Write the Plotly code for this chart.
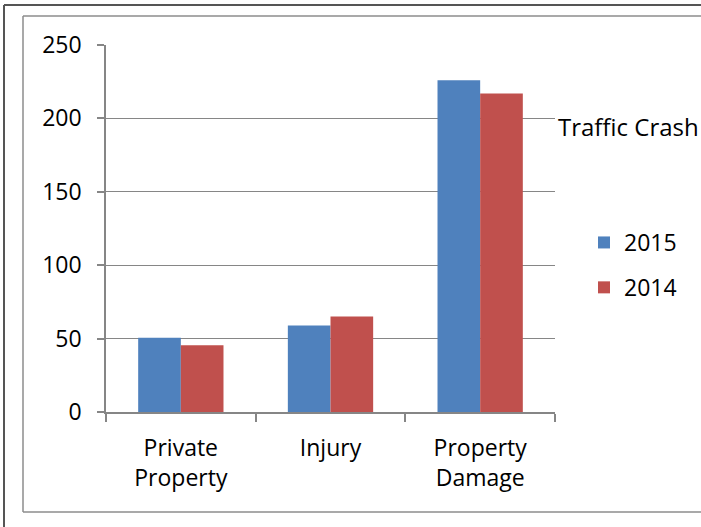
import plotly.graph_objects as go

categories = ["Private<br>Property", "Injury", "Property<br>Damage"]
series_names = ["2015", "2014"]
values_2015 = [50.5, 59, 226]
values_2014 = [45.5, 65, 217]
colors = ["#4F81BD", "#C0504D"]
y_ticks = [0, 50, 100, 150, 200, 250]
title_text = "Traffic Crash"

W, H = 701, 527
L, R, T, B = 106, 555, 45, 412
pw, ph = R - L, B - T

def px(x):
    return (x - L) / pw

def py(y):
    return (B - y) / ph

FONT = "Open Sans"
AX = "#868686"

fig = go.Figure()
for name, vals, c, g in zip(series_names, [values_2015, values_2014], colors, ["a", "b"]):
    fig.add_trace(go.Bar(x=categories, y=vals, name=name, marker_color=c,
                         marker_line_width=0, legendgroup=g))

def seg(x0, y0, x1, y1, color, width):
    return dict(type="line", xref="paper", yref="paper", x0=px(x0), y0=py(y0),
                x1=px(x1), y1=py(y1), line=dict(color=color, width=width), layer="below")

fig.update_layout(
    width=W, height=H,
    margin=dict(l=L, r=W - R, t=T, b=H - B, pad=0),
    paper_bgcolor="white", plot_bgcolor="white",
    font=dict(family=FONT, size=23, color="black"),
    barmode="group", bargap=0.43, bargroupgap=0,
    showlegend=True,
    legend=dict(x=px(584), y=py(221), xanchor="left", yanchor="top",
                xref="paper", yref="paper",
                font=dict(size=23), tracegroupgap=12, traceorder="grouped",
                bgcolor="rgba(0,0,0,0)", borderwidth=0),
    xaxis=dict(type="category", tickson="boundaries", ticks="outside", ticklen=8,
               tickcolor=AX, tickwidth=1.5, showline=True, linecolor=AX, linewidth=1.5,
               showgrid=False, ticklabelstandoff=15),
    yaxis=dict(range=[0, 250], tickvals=y_ticks, ticks="outside", ticklen=7,
               tickcolor=AX, tickwidth=1.5, showline=True, linecolor=AX, linewidth=1.5,
               showgrid=True, gridcolor=AX, gridwidth=1.2, zeroline=False,
               ticklabelstandoff=11),
    shapes=[
        seg(4, 5, 701, 5, "#555555", 2),
        seg(4, 5, 4, 527, "#555555", 2),
        seg(23, 16, 701, 16, "#8c8c8c", 1.5),
        seg(23, 16, 23, 512, "#8c8c8c", 1.5),
        seg(23, 512, 701, 512, "#8c8c8c", 1.5),
    ],
    annotations=[
        dict(text=title_text, xref="paper", yref="paper", x=px(556), y=py(127),
             xanchor="left", yanchor="middle", showarrow=False,
             font=dict(family=FONT, size=24, color="black")),
    ],
)

fig.write_html("out.html", config={"displayModeBar": False},
               post_script="document.body.style.margin='0';document.body.style.overflow='hidden';")
